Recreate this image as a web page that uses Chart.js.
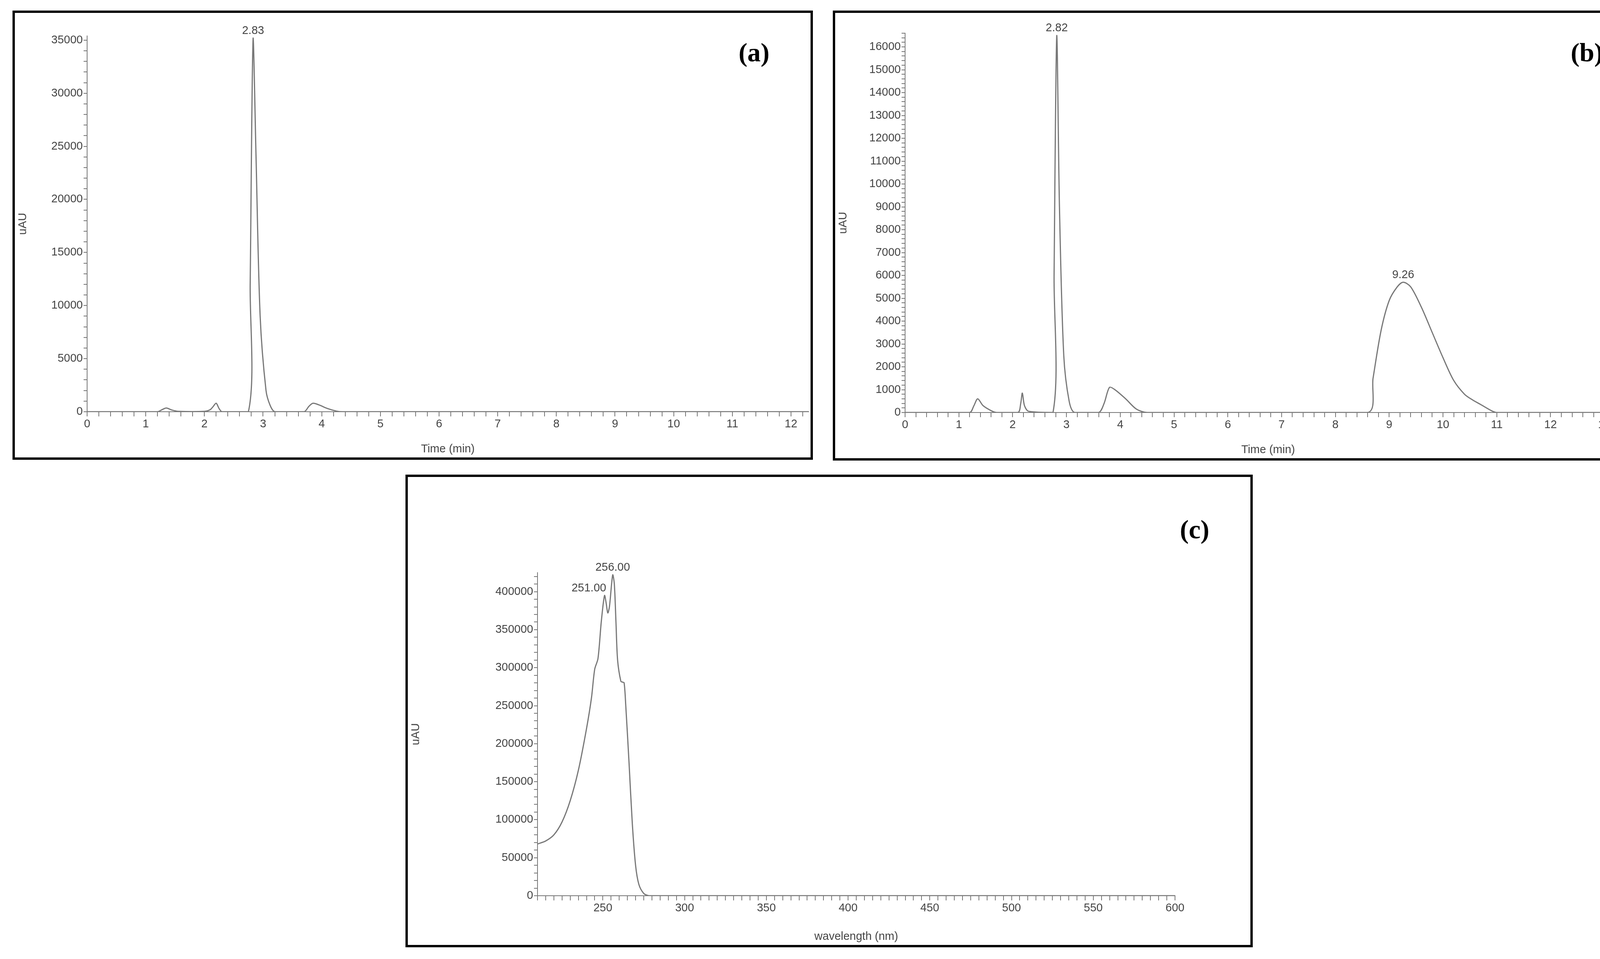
<!DOCTYPE html>
<html><head><meta charset="utf-8">
<script src="https://cdn.jsdelivr.net/npm/chart.js@4"></script>
<style>
body{margin:0;width:4215px;height:2455px;background:#fff;position:relative;overflow:hidden}
.box{position:absolute;border:6px solid #000;box-sizing:border-box}
.box canvas{position:absolute;left:0;top:0}
.lbl{position:absolute;font:bold 68px "Liberation Serif","DejaVu Serif",serif;color:#000}
</style></head><body>
<div class="box" id="ba" style="left:32px;top:27px;width:2049px;height:1150px"><canvas id="ca"></canvas><div class="lbl" style="right:105px;top:62px">(a)</div></div>
<div class="box" id="bb" style="left:2132px;top:27px;width:2050px;height:1152px"><canvas id="cb"></canvas><div class="lbl" style="right:72px;top:62px">(b)</div></div>
<div class="box" id="bc" style="left:1038px;top:1215px;width:2169px;height:1210px"><canvas id="cc"></canvas><div class="lbl" style="right:105px;top:95px">(c)</div></div>
<script>
const timeA=[0,0.5,1.2,1.28,1.35,1.45,1.55,2.0,2.1,2.15,2.2,2.25,2.3,2.75,2.78,2.83,2.88,2.95,3.05,3.12,3.2,3.7,3.78,3.85,3.95,4.1,4.25,4.35,12.3];
const valA=[0,0,0,200,350,150,40,40,200,500,800,300,0,0,12000,35200,24000,9000,2000,600,0,0,500,800,650,300,60,0,0];
const timeB=[0,1.2,1.28,1.35,1.45,1.6,1.7,2.1,2.15,2.18,2.22,2.3,2.75,2.77,2.82,2.87,2.95,3.05,3.15,3.6,3.7,3.8,3.9,4.1,4.3,4.5,8.6,8.7,8.85,9.0,9.15,9.26,9.4,9.6,9.8,10.0,10.2,10.4,10.55,10.7,10.9,11.0,13.5];
const valB=[0,0,300,600,300,80,0,0,400,850,300,50,0,6000,16500,9000,2500,500,0,0,400,1100,1000,600,150,0,0,1500,3600,4900,5500,5700,5500,4600,3500,2400,1400,800,550,350,80,0,0];
const wlC=[210,215,220,225,230,235,240,243,245,247,249,251,252,253,254,256,257,258,259,261,262,263,264,266,268,270,272,275,278,280,600];
const valC=[68000,72000,80000,97000,125000,165000,220000,260000,298000,312000,360000,395000,385000,372000,380000,422000,410000,360000,310000,282000,281000,280000,250000,175000,95000,40000,15000,3000,0,0,0];
const peaksA=[{x:2.83,y:35200,t:"2.83"}];
const peaksB=[{x:2.82,y:16500,t:"2.82"},{x:9.26,y:5700,t:"9.26"}];
const peaksC=[{x:251,y:395000,t:"251.00",dx:-40},{x:256,y:422000,t:"256.00"}];

const TXT='#444', AX='#777', FONT='"Liberation Sans",Arial,sans-serif';
const peakPlugin={id:'pk',afterDatasetsDraw(ch){const p=ch.options.plugins.pk;if(!p)return;const c=ch.ctx;c.save();c.fillStyle=TXT;c.font='29px '+FONT;c.textAlign='center';c.textBaseline='bottom';
 p.list.forEach(q=>{c.fillText(q.t,ch.scales.x.getPixelForValue(q.x)+(q.dx||0),ch.scales.y.getPixelForValue(q.y)-4);});c.restore();}};
function mk(id,box,xs,ys,o){
 const b=document.getElementById(box);const W=b.clientWidth,H=b.clientHeight;
 const cv=document.getElementById(id);cv.width=W;cv.height=H;cv.style.width=W+'px';cv.style.height=H+'px';
 const pts=xs.map((x,i)=>({x,y:ys[i]}));
 new Chart(cv,{type:'line',data:{datasets:[{data:pts,borderColor:'#777',borderWidth:3,pointRadius:0,tension:0.3,fill:false}]},
 plugins:[peakPlugin],
 options:{responsive:false,animation:false,devicePixelRatio:1,
  layout:{padding:{top:o.top,right:o.right,left:0,bottom:0}},
  plugins:{legend:{display:false},tooltip:{enabled:false},pk:{list:o.peaks}},
  scales:{
   x:{type:'linear',min:o.xmin,max:o.xmax,afterFit:s=>{s.height=o.bottom},
    afterBuildTicks:s=>{const t=[];for(let v=o.xmin;v<=o.xmax+1e-9;v+=o.xminor)t.push({value:Math.round(v*1000)/1000});s.ticks=t;},
    ticks:{autoSkip:false,maxRotation:0,color:TXT,font:{size:29,family:FONT},callback:v=>{const r=Math.round(v/o.xmaj);return Math.abs(v-r*o.xmaj)<1e-6&&v>=o.xlab0?String(Math.round(v)):'';}},
    grid:{drawOnChartArea:false,color:AX,tickLength:12,tickColor:AX,lineWidth:2},border:{color:AX,width:2},
    title:{display:true,text:o.xt,color:TXT,font:{size:29,family:FONT},padding:{top:0}}},
   y:{type:'linear',min:0,max:o.ymax,afterFit:s=>{s.width=o.left},
    afterBuildTicks:s=>{const t=[];for(let v=0;v<=o.ymax;v+=o.yminor)t.push({value:v});s.ticks=t;},
    ticks:{autoSkip:false,color:TXT,font:{size:29,family:FONT},padding:2,callback:v=>v%o.ymaj===0?String(v):''},
    grid:{drawOnChartArea:false,color:AX,tickLength:9,tickColor:AX,lineWidth:2},border:{color:AX,width:2},
    title:{display:true,text:'uAU',color:TXT,font:{size:29,family:FONT},padding:{bottom:4}}}
  }}});
}
mk('ca','ba',timeA,valA,{top:59,right:5,bottom:117,left:185,xmin:0,xmax:12.3,xminor:0.2,xmaj:1,xlab0:0,xt:'Time (min)',ymax:35400,yminor:1000,ymaj:5000,peaks:peaksA});
mk('cb','bb',timeB,valB,{top:52,right:0,bottom:117,left:179,xmin:0,xmax:13.5,xminor:0.2,xmaj:1,xlab0:0,xt:'Time (min)',ymax:16600,yminor:200,ymaj:1000,peaks:peaksB});
mk('cc','bc',wlC,valC,{top:245,right:193,bottom:126,left:332,xmin:210,xmax:600,xminor:5,xmaj:50,xlab0:250,xt:'wavelength (nm)',ymax:425000,yminor:10000,ymaj:50000,peaks:peaksC});
</script></body></html>
